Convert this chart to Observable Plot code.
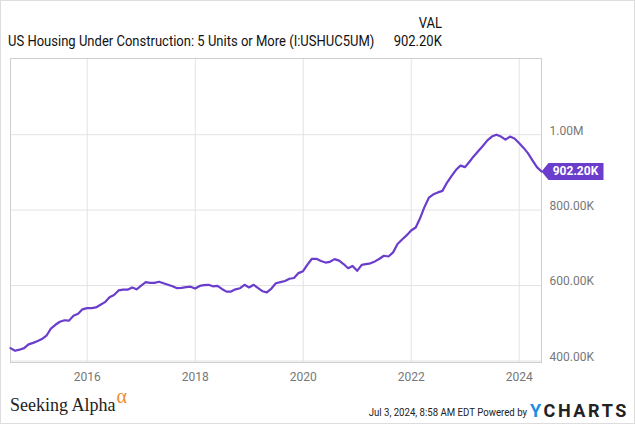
<!DOCTYPE html>
<html><head><meta charset="utf-8">
<script src="https://cdn.jsdelivr.net/npm/d3@7"></script>
<script src="https://cdn.jsdelivr.net/npm/@observablehq/plot@0.6"></script>
<style>
html,body{margin:0;padding:0;background:#fff;}
#wrap{position:relative;width:635px;height:424px;font-family:Roboto,sans-serif;overflow:hidden;background:#fff;}
#border{position:absolute;left:0;top:0;width:635px;height:424px;box-sizing:border-box;border:1px solid #ddd;pointer-events:none;}
#chart{position:absolute;left:0;top:0;}
.t{position:absolute;white-space:nowrap;color:#111;}
#val{top:15px;right:193px;font-size:14px;line-height:16px;transform:scaleX(0.93);transform-origin:right;}
#title{top:33px;left:8px;font-size:14px;line-height:16px;transform:scaleX(0.93);transform-origin:left;}
#cur{top:33px;right:193px;font-size:14px;line-height:16px;transform:scaleX(0.93);transform-origin:right;}
#sa{top:394px;left:10px;font-family:"Liberation Serif",serif;font-size:18px;line-height:20px;color:#222;}
#sa span{color:#f08a30;font-size:20px;position:relative;top:-8px;margin-left:1px;}
#stamp{top:406px;right:108px;font-size:11px;line-height:13px;color:#222;transform:scaleX(0.875);transform-origin:right;}
#yc{top:401px;left:530px;font-size:18px;line-height:20px;font-weight:bold;letter-spacing:2.6px;color:#222;}
#yc span{color:#1a8fe3;}
</style></head><body>
<div id="wrap">
  <div id="chart"></div>
  <div class="t" id="val">VAL</div>
  <div class="t" id="title">US Housing Under Construction: 5 Units or More (I:USHUC5UM)</div>
  <div class="t" id="cur">902.20K</div>
  <div class="t" id="sa">Seeking Alpha<span>α</span></div>
  <div class="t" id="stamp">Jul 3, 2024, 8:58 AM EDT Powered by</div>
  <div class="t" id="yc"><span>Y</span>CHARTS</div>
  <div id="border"></div>
</div>
<script>
// Monthly values (thousands of units), month-end dates
const firstYear = 2014, firstMonth = 7; // July 2014
const v2014 = [434, 427, 430, 434, 444, 448];
const v2015 = [453, 458, 467, 486, 496, 504, 508, 507, 520, 525, 537, 540];
const v2016 = [540, 542, 549, 556, 569, 575, 587, 589, 589, 595, 590, 600];
const v2017 = [609, 607, 607, 610, 606, 602, 598, 593, 594, 596, 597, 592];
const v2018 = [599, 601, 602, 598, 599, 591, 584, 584, 590, 593, 602, 595];
const v2019 = [602, 594, 585, 582, 592, 606, 609, 612, 618, 620, 633, 638];
const v2020 = [656, 671, 671, 665, 661, 663, 670, 666, 657, 646, 652, 639];
const v2021 = [655, 657, 659, 664, 671, 679, 677, 688, 710, 722, 733, 746];
const v2022 = [754, 777, 808, 833, 842, 847, 851, 873, 890, 907, 918, 914];
const v2023 = [929, 943, 957, 970, 985, 995, 1000, 995, 987, 995, 990, 978];
const v2024 = [965, 951, 932, 914, 902.2];

const yTicks = [400000, 600000, 800000, 1000000];
const yTickLabels = ["400.00K", "600.00K", "800.00K", "1.00M"];
const xTickYears = [2016, 2018, 2020, 2022, 2024];
const lastLabel = "902.20K";

const yearly = [v2014, v2015, v2016, v2017, v2018, v2019, v2020, v2021, v2022, v2023, v2024];
const data = [];
yearly.forEach((arr, i) => {
  const y = firstYear + i;
  const m0 = i === 0 ? firstMonth - 1 : 0;
  arr.forEach((v, j) => {
    data.push({date: new Date(Date.UTC(y, m0 + j + 1, 0)), value: v * 1000});
  });
});
const last = data[data.length - 1];
const xTicks = xTickYears.map(y => new Date(Date.UTC(y, 0, 1)));
const purple = "#6a3dcd";

const badge = {
  draw(ctx) {
    ctx.moveTo(0, 0);
    ctx.lineTo(7, -8.5);
    ctx.lineTo(62, -8.5);
    ctx.lineTo(62, 8.5);
    ctx.lineTo(7, 8.5);
    ctx.closePath();
  }
};

const chart = Plot.plot({
  width: 635,
  height: 395,
  marginTop: 58,
  marginLeft: 10,
  marginRight: 94,
  marginBottom: 33,
  style: {fontFamily: "Roboto, sans-serif", fontSize: "12px", background: "transparent", color: "#777", overflow: "visible"},
  x: {type: "utc", domain: [data[0].date, last.date], label: null},
  y: {domain: [396000, 1202000], label: null},
  marks: [
    Plot.gridX(xTicks, {stroke: "#e3e3e3", strokeOpacity: 1}),
    Plot.gridY(yTicks, {stroke: "#e3e3e3", strokeOpacity: 1}),
    Plot.frame({stroke: "#cfcfcf"}),
    Plot.axisX(xTicks, {tickSize: 0, tickPadding: 10, label: null, tickFormat: d => String(d.getUTCFullYear()), fontSize: 12}),
    Plot.axisY(yTicks, {anchor: "right", tickSize: 0, tickPadding: 8, dy: -4, textAnchor: "start", label: null,
      tickFormat: d => yTickLabels[yTicks.indexOf(d)], fontSize: 12}),
    Plot.line(data, {x: "date", y: "value", stroke: purple, strokeWidth: 2.2}),
    Plot.dot([last], {x: "date", y: "value", symbol: badge, fill: purple, stroke: null}),
    Plot.text([last], {x: "date", y: "value", text: () => lastLabel, dx: 34, fill: "white", fontWeight: "bold", fontSize: 12})
  ]
});
document.getElementById("chart").appendChild(chart);
</script>
</body></html>
